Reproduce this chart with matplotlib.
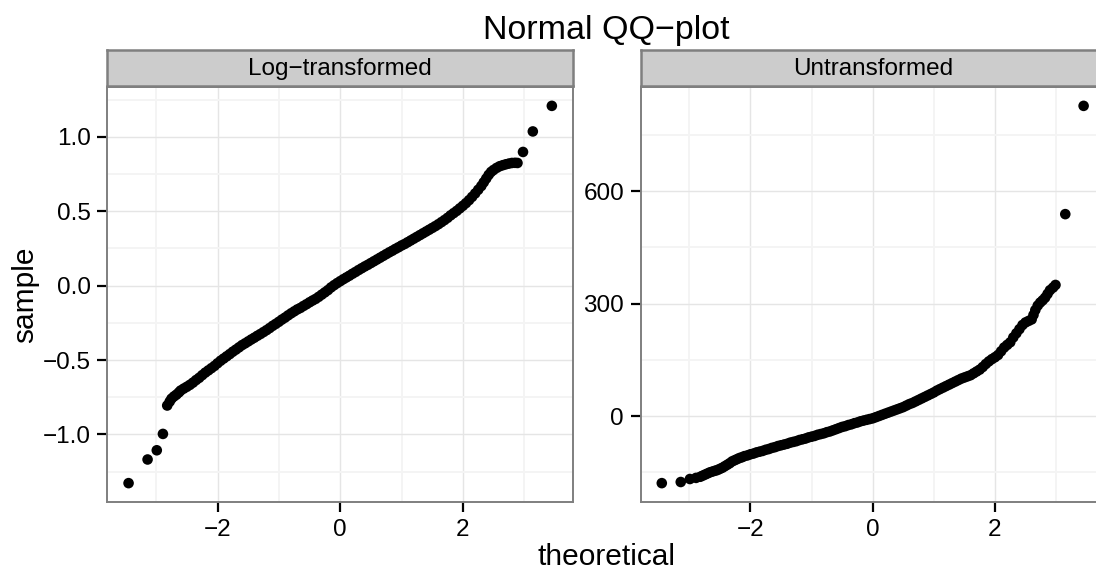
import matplotlib.pyplot as plt
from matplotlib.ticker import FixedLocator, FuncFormatter

plt.rcParams['font.family'] = ['Liberation Sans', 'DejaVu Sans']

# QQ points per panel: theoretical normal quantile vs sorted sample value
log_theo = [-3.45, -3.14, -2.99, -2.89, -2.82, -2.78, -2.75, -2.71, -2.67, -2.63,
            -2.6, -2.55, -2.5, -2.45, -2.4, -2.35, -2.3, -2.25, -2.2, -2.15,
            -2.1, -2.05, -2.0, -1.95, -1.9, -1.85, -1.8, -1.75, -1.7, -1.65,
            -1.6, -1.55, -1.5, -1.45, -1.4, -1.35, -1.3, -1.25, -1.2, -1.15,
            -1.1, -1.05, -1.0, -0.95, -0.9, -0.85, -0.8, -0.75, -0.7, -0.65,
            -0.6, -0.55, -0.5, -0.45, -0.4, -0.35, -0.3, -0.25, -0.2, -0.15,
            -0.1, -0.05, 0.0, 0.05, 0.1, 0.15, 0.2, 0.25, 0.3, 0.35,
            0.4, 0.45, 0.5, 0.55, 0.6, 0.65, 0.7, 0.75, 0.8, 0.85,
            0.9, 0.95, 1.0, 1.05, 1.1, 1.15, 1.2, 1.25, 1.3, 1.35,
            1.4, 1.45, 1.5, 1.55, 1.6, 1.65, 1.7, 1.75, 1.8, 1.85,
            1.9, 1.95, 2.0, 2.05, 2.1, 2.15, 2.2, 2.25, 2.3, 2.34,
            2.38, 2.42, 2.46, 2.5, 2.55, 2.6, 2.65, 2.7, 2.75, 2.8,
            2.85, 2.89, 2.98, 3.14, 3.45]
log_sample = [-1.328, -1.169, -1.107, -0.997, -0.806, -0.78, -0.76, -0.745, -0.733, -0.718,
              -0.705, -0.692, -0.68, -0.667, -0.652, -0.635, -0.62, -0.602, -0.585, -0.57,
              -0.555, -0.54, -0.522, -0.505, -0.49, -0.475, -0.46, -0.444, -0.43, -0.415,
              -0.40, -0.388, -0.375, -0.362, -0.35, -0.337, -0.325, -0.312, -0.299, -0.285,
              -0.27, -0.257, -0.243, -0.228, -0.215, -0.20, -0.186, -0.173, -0.16, -0.15,
              -0.137, -0.125, -0.112, -0.10, -0.089, -0.075, -0.06, -0.045, -0.03, -0.012,
              0.003, 0.017, 0.03, 0.043, 0.055, 0.067, 0.08, 0.092, 0.105, 0.117,
              0.129, 0.14, 0.152, 0.164, 0.176, 0.188, 0.20, 0.212, 0.224, 0.235,
              0.247, 0.258, 0.27, 0.28, 0.292, 0.304, 0.316, 0.328, 0.34, 0.352,
              0.364, 0.376, 0.388, 0.40, 0.413, 0.427, 0.441, 0.456, 0.473, 0.488,
              0.503, 0.52, 0.537, 0.555, 0.575, 0.597, 0.62, 0.645, 0.67, 0.695,
              0.72, 0.745, 0.765, 0.778, 0.792, 0.803, 0.81, 0.816, 0.821, 0.825,
              0.826, 0.825, 0.899, 1.037, 1.209]

raw_theo = [-3.45, -3.14, -2.99, -2.89, -2.82, -2.78, -2.74, -2.7, -2.66, -2.62,
            -2.58, -2.54, -2.5, -2.46, -2.42, -2.38, -2.34, -2.3, -2.26, -2.22,
            -2.18, -2.14, -2.1, -2.05, -2.0, -1.95, -1.9, -1.85, -1.8, -1.75,
            -1.7, -1.65, -1.6, -1.55, -1.5, -1.45, -1.4, -1.35, -1.3, -1.25,
            -1.2, -1.15, -1.1, -1.05, -1.0, -0.95, -0.9, -0.85, -0.8, -0.75,
            -0.7, -0.65, -0.6, -0.55, -0.5, -0.45, -0.4, -0.35, -0.3, -0.25,
            -0.2, -0.15, -0.1, -0.05, 0.0, 0.05, 0.1, 0.15, 0.2, 0.25,
            0.3, 0.35, 0.4, 0.45, 0.5, 0.55, 0.6, 0.65, 0.7, 0.75,
            0.8, 0.85, 0.9, 0.95, 1.0, 1.05, 1.1, 1.15, 1.2, 1.25,
            1.3, 1.35, 1.4, 1.45, 1.5, 1.55, 1.6, 1.65, 1.7, 1.75,
            1.8, 1.85, 1.9, 1.95, 2.0, 2.05, 2.1, 2.15, 2.2, 2.25,
            2.3, 2.35, 2.4, 2.45, 2.5, 2.55, 2.6, 2.63, 2.66, 2.7,
            2.74, 2.78, 2.82, 2.86, 2.9, 2.95, 2.99, 3.15, 3.45]
raw_sample = [-179, -176, -168, -165, -162, -159, -156, -153, -150, -148,
              -146, -144, -141, -138, -134, -130, -126, -121, -118, -115,
              -112, -110, -107, -105, -102, -100, -97, -95, -93, -90,
              -88, -85, -83, -80, -78, -76, -74, -71, -69, -67,
              -64, -62, -60, -57, -55, -53, -50, -48, -46, -43,
              -41, -38, -35, -32, -29, -27, -24, -22, -19, -17,
              -14, -12, -10, -8, -6, -3, 0, 3, 6, 9,
              12, 15, 18, 21, 24, 28, 32, 35, 39, 43,
              47, 51, 55, 59, 63, 68, 72, 76, 80, 84,
              88, 92, 96, 100, 103, 106, 109, 114, 119, 124,
              131, 139, 146, 152, 157, 163, 173, 183, 190, 197,
              210, 221, 232, 243, 250, 254, 258, 270, 283, 295,
              303, 309, 316, 326, 336, 343, 350, 539, 828]

panels = ["Log\u2212transformed", "Untransformed"]

W, H = 1096, 572
fig = plt.figure(figsize=(W / 100, H / 100), dpi=100)
fig.patch.set_facecolor("white")


def minus_fmt(fmt):
    return FuncFormatter(lambda v, pos: (fmt % v).replace("-", "\u2212"))


def panel(left_px, width_px, title, xs, ys, yticks, yminor, fmt):
    ax = fig.add_axes([left_px / W, 70 / H, width_px / W, 415 / H])
    ax.scatter(xs, ys, s=58, c="black", edgecolors="none", zorder=3)
    ax.margins(0.05)
    ax.xaxis.set_major_locator(FixedLocator([-2, 0, 2]))
    ax.xaxis.set_minor_locator(FixedLocator([-3, -1, 1, 3]))
    ax.yaxis.set_major_locator(FixedLocator(yticks))
    ax.yaxis.set_minor_locator(FixedLocator(yminor))
    ax.xaxis.set_major_formatter(minus_fmt("%d"))
    ax.yaxis.set_major_formatter(minus_fmt(fmt))
    ax.set_axisbelow(True)
    ax.grid(which="major", color="#E5E5E5", lw=1.0)
    ax.grid(which="minor", color="#F4F4F4", lw=1.4)
    ax.tick_params(which="major", length=7.5, width=1.6, color="black",
                   labelsize=17.5, pad=4.5)
    ax.tick_params(which="minor", length=0)
    for sp in ax.spines.values():
        sp.set_color("#7F7F7F")
        sp.set_linewidth(1.4)
    # facet strip above the panel
    st = fig.add_axes([left_px / W, (H - 86) / H, width_px / W, 36 / H])
    st.set_facecolor("#CCCCCC")
    st.set_xticks([])
    st.set_yticks([])
    for sp in st.spines.values():
        sp.set_color("#7F7F7F")
        sp.set_linewidth(1.8)
    st.text(0.5, 0.48, title, ha="center", va="center", fontsize=17.5,
            transform=st.transAxes)
    return ax


panel(107.4, 465.6, panels[0], log_theo, log_sample,
      [-1.0, -0.5, 0.0, 0.5, 1.0], [-1.25, -0.75, -0.25, 0.25, 0.75, 1.25], "%.1f")
panel(640.7, 464.0, panels[1], raw_theo, raw_sample,
      [0, 300, 600], [-150, 150, 450, 750], "%d")

fig.text(606 / W, 1 - 30 / H, "Normal QQ\u2212plot", ha="center", va="center", fontsize=24.5)
fig.text(606 / W, 1 - 557 / H, "theoretical", ha="center", va="center", fontsize=21.5)
fig.text(25 / W, 1 - 294.5 / H, "sample", ha="center", va="center",
         rotation=90, fontsize=21.5)

fig.savefig("out.png", dpi=100)
